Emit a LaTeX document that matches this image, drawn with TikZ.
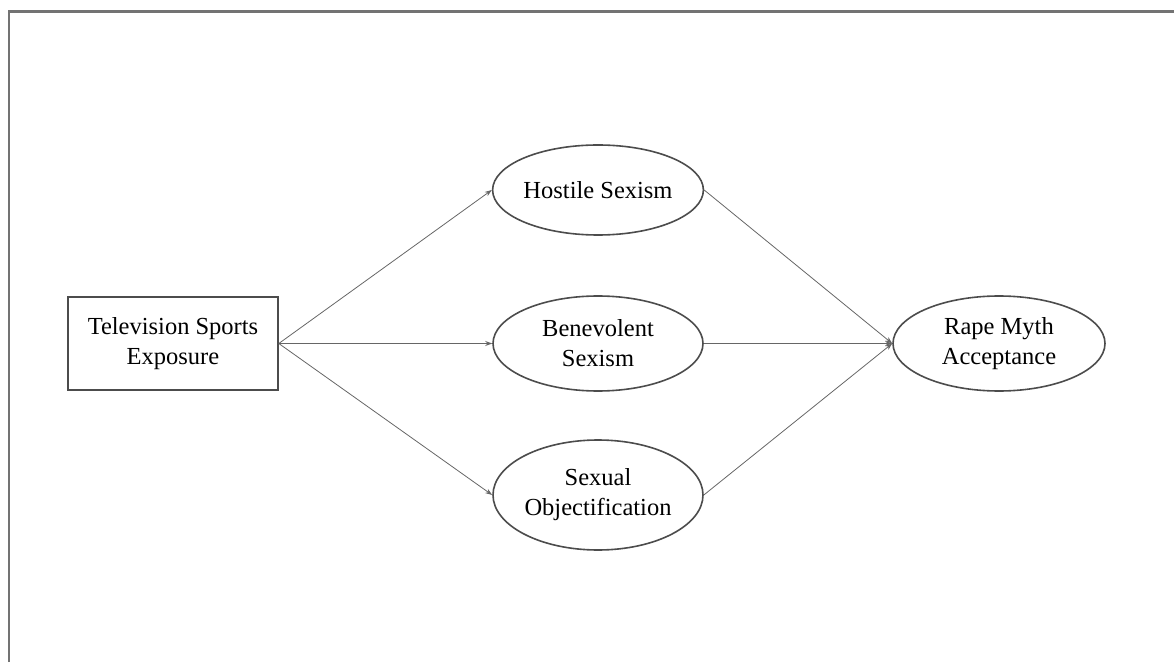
\documentclass[tikz,border=0pt]{standalone}
\usepackage{fontspec}
\setmainfont{Liberation Serif}
\usepackage{tikz}
\usetikzlibrary{arrows.meta,positioning,shapes.geometric,calc}

\begin{document}
\begin{tikzpicture}[
    x=1pt, y=1pt,
    construct/.style={ellipse, draw=black!70, line width=1.6pt, inner sep=0pt, minimum width=210pt, font=\fontsize{24.5}{30}\selectfont, align=center},
    measured/.style={rectangle, draw=black!70, line width=1.6pt, minimum width=210pt, minimum height=93pt, font=\fontsize{24.5}{30}\selectfont, align=center},
    arrow/.style={-{Stealth[length=7pt,width=5pt]}, black!60, line width=0.8pt},
    frame/.style={black!55, line width=2.5pt}
]
\useasboundingbox (0,0) rectangle (1174,662);

% Outer frame (cut off at right and bottom)
\draw[frame] (9,0) -- (9,650.5) -- (1174,650.5);

% Predictor
\node[measured] (TV) at (173,318.5) {Television Sports\\Exposure};

% Mediators
\node[construct, minimum height=90pt] (HS) at (598,472) {Hostile Sexism};
\node[construct, minimum height=95pt] (BS) at (598,318.5) {Benevolent\\Sexism};
\node[construct, minimum height=110pt] (SO) at (598,167) {Sexual\\Objectification};

% Outcome
\node[construct, minimum width=212pt, minimum height=95pt] (RM) at (999,318.5) {Rape Myth\\Acceptance};

% Paths
\draw[arrow] (TV.east) -- (HS.west);
\draw[arrow] (TV.east) -- (BS.west);
\draw[arrow] (TV.east) -- (SO.west);
\draw[arrow] (HS.east) -- (RM.west);
\draw[arrow] (BS.east) -- (RM.west);
\draw[arrow] (SO.east) -- (RM.west);
\end{tikzpicture}
\end{document}
